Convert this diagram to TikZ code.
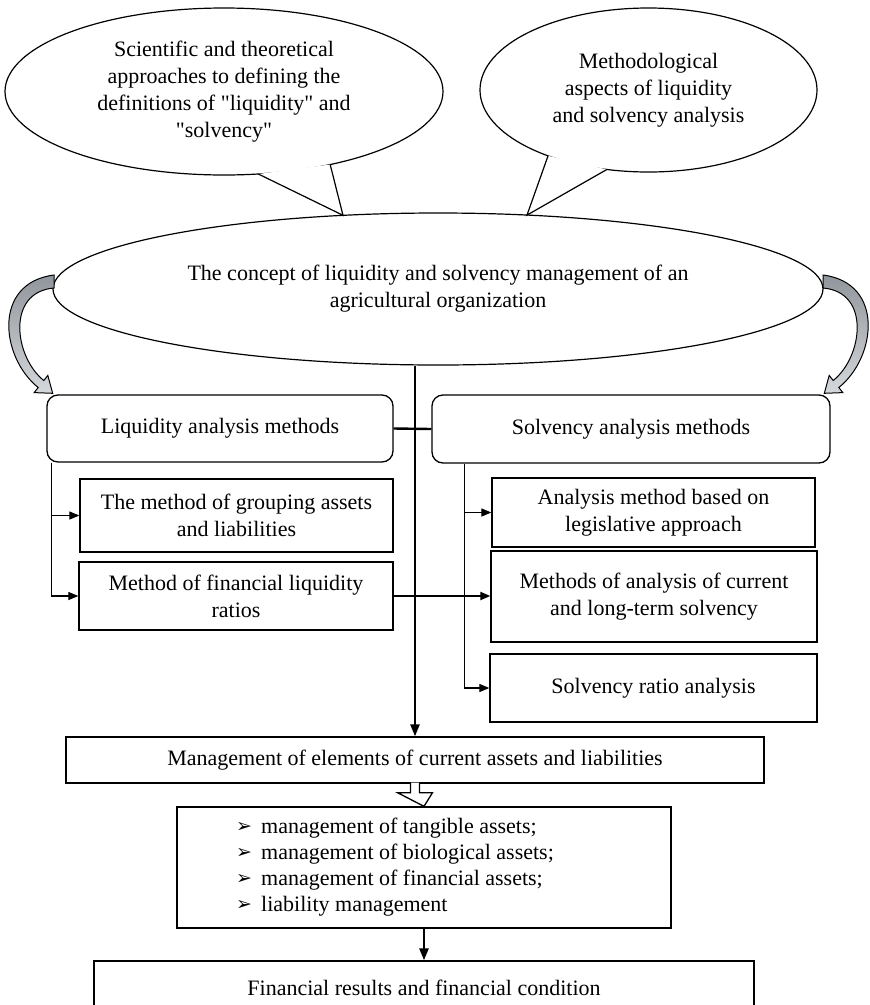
\documentclass[tikz,border=0pt]{standalone}
\usepackage{fontspec}
\setmainfont{Liberation Serif}[Ligatures=TeXOff]
\newfontfamily\dejavu{DejaVu Sans}
\usetikzlibrary{shapes.geometric,arrows.meta,calc}
\newcommand\lbul{\makebox[25pt][l]{\raisebox{1pt}{\dejavu\fontsize{19}{19}\selectfont ➢}}}
\definecolor{swtop}{RGB}{145,150,156}
\definecolor{swbot}{RGB}{212,215,219}
\begin{document}
\begin{tikzpicture}[x=1pt,y=-1pt,
  every node/.style={font=\fontsize{22}{27}\selectfont},
  box/.style={draw,line width=1.3pt,rectangle,inner sep=0pt,align=center},
  rbox/.style={box,rounded corners=11pt},
  oval/.style={draw,line width=1.2pt,ellipse,inner sep=0pt,align=center},
  conn/.style={line width=1.2pt},
  thickconn/.style={line width=2.4pt},
  sarr/.style={-{Triangle[length=10pt,width=8pt]}},
  bigarr/.style={-{Triangle[length=12pt,width=9pt]}},
  swoosh/.style={line width=1pt,draw=black,top color=swtop,bottom color=swbot}
]
\useasboundingbox (0,0) rectangle (870,1005);
\clip (0,0) rectangle (870,1005);

% callouts
\node[oval, minimum width=438pt, minimum height=167pt] (sci) at (224,91.5)
  {Scientific and theoretical\\approaches to defining the\\definitions of "liquidity" and\\"solvency"};
\node[oval, minimum width=337pt, minimum height=164pt] (meth) at (648.5,90)
  {Methodological\\aspects of liquidity\\and solvency analysis};

\coordinate (sciA) at ($(sci.center)+({219*cos(-81)},{-83.5*sin(-81)})$);
\coordinate (sciB) at ($(sci.center)+({219*cos(-61)},{-83.5*sin(-61)})$);
\coordinate (tipA) at (343,215.3);
\fill[white] (sciA) -- (tipA) -- (sciB) -- cycle;
\draw[line width=1.2pt, line join=miter] (sciA) -- (tipA) -- (sciB);

\coordinate (methA) at ($(meth.center)+({168.5*cos(-126.6)},{-82*sin(-126.6)})$);
\coordinate (methB) at ($(meth.center)+({168.5*cos(-104.3)},{-82*sin(-104.3)})$);
\coordinate (tipB) at (527,215.1);
\fill[white] (methA) -- (tipB) -- (methB) -- cycle;
\draw[line width=1.2pt, line join=miter] (methA) -- (tipB) -- (methB);

% central ellipse
\node[oval, minimum width=770pt, minimum height=152pt] (concept) at (438,289)
  {The concept of liquidity and solvency management of an\\agricultural organization};

% curved block arrows
\shadedraw[swoosh] (54,275) .. controls (-8,283) and (0.8,357.7) .. (38.2,387.5)
  -- (34.2,392.6) -- (52.7,393.3) -- (47.8,375.4) -- (43.8,380.5)
  .. controls (14.2,356.9) and (6,292) .. (54,288) -- cycle;
\begin{scope}[xshift=877pt,xscale=-1]
\shadedraw[swoosh] (54,275) .. controls (-8,283) and (0.8,357.7) .. (38.2,387.5)
  -- (34.2,392.6) -- (52.7,393.3) -- (47.8,375.4) -- (43.8,380.5)
  .. controls (14.2,356.9) and (6,292) .. (54,288) -- cycle;
\end{scope}

% method boxes
\node[rbox, minimum width=346pt, minimum height=67pt] (liq) at (220,428.5) {Liquidity analysis methods};
\node[rbox, minimum width=398pt, minimum height=68pt] (solv) at (631,429) {Solvency analysis methods};
\node[box, minimum width=313pt, minimum height=73pt] (g1) at (236.5,515.5) {The method of grouping assets\\and liabilities};
\node[box, minimum width=314pt, minimum height=68pt] (g2) at (236,596) {Method of financial liquidity\\ratios};
\node[box, minimum width=323pt, minimum height=69pt] (sA) at (653.5,512.5) {Analysis method based on\\legislative approach};
\node[box, minimum width=326pt, minimum height=91pt] (sB) at (654,596.5) {Methods of analysis of current\\and long-term solvency};
\node[box, minimum width=327pt, minimum height=68pt] (sC) at (653.5,688) {Solvency ratio analysis};

% lower boxes
\node[box, minimum width=698pt, minimum height=46pt] (mgmt) at (415,760) {Management of elements of current assets and liabilities};
\node[box, minimum width=494pt, minimum height=121pt] (list) at (424,867.5) {};
\node[anchor=west, align=left, inner sep=0pt, font=\fontsize{22}{26}\selectfont] (items) at (236,867)
  {\lbul management of tangible assets;\\\lbul management of biological assets;\\\lbul management of financial assets;\\\lbul liability management};
\node[box, minimum width=660pt, minimum height=54pt] (fin) at (424,988) {Financial results and financial condition};

% connectors
\coordinate (mtop) at (concept.south -| mgmt.north);
\draw[thickconn, bigarr] (mtop) -- (mgmt.north);
\draw[thickconn] (liq.east) -- (solv.west);
\coordinate (lb) at ($(liq.south west)+(5,0)$);
\draw[conn, sarr] (lb) |- (g1.west);
\draw[conn, sarr] (lb) |- (g2.west);
\coordinate (rb) at ($(solv.south west)+(33,0)$);
\draw[conn, sarr] (rb) |- (sA.west);
\draw[conn, sarr] (rb) |- (sC.west);
\draw[line width=2pt, sarr] (g2.east) -- (g2.east -| sB.west);

% hollow arrow
\filldraw[fill=white, line width=1.3pt, line join=miter]
  ($(mgmt.south)+(-4.5,-1)$) -- ++(0,10) -- ++(-13,0) -- (list.north)
  -- ($(mgmt.south)+(17.5,9)$) -- ++(-13,0) -- ++(0,-10);

\draw[thickconn, bigarr] (list.south) -- (fin.north);
\end{tikzpicture}
\end{document}
